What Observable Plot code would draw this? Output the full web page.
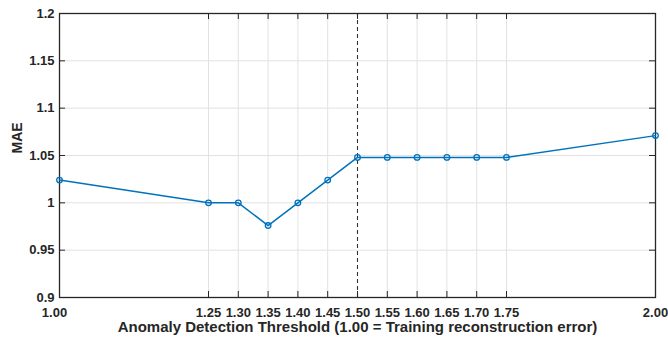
<!DOCTYPE html>
<html>
<head>
<meta charset="utf-8">
<script src="https://cdn.jsdelivr.net/npm/d3@7"></script>
<script src="https://cdn.jsdelivr.net/npm/@observablehq/plot@0.6"></script>
<style>
  html, body { margin: 0; padding: 0; background: #fff; }
  svg { display: block; }
</style>
</head>
<body>
<div id="chart"></div>
<script>
const thresholds = [1.00, 1.25, 1.30, 1.35, 1.40, 1.45, 1.50, 1.55, 1.60, 1.65, 1.70, 1.75, 2.00];
const mae = [1.024, 1.000, 1.000, 0.976, 1.000, 1.024, 1.048, 1.048, 1.048, 1.048, 1.048, 1.048, 1.071];
const xTicks = [1.00, 1.25, 1.30, 1.35, 1.40, 1.45, 1.50, 1.55, 1.60, 1.65, 1.70, 1.75, 2.00];
const xTickLabels = ["1.00", "1.25", "1.30", "1.35", "1.40", "1.45", "1.50", "1.55", "1.60", "1.65", "1.70", "1.75", "2.00"];
const yTicks = [0.9, 0.95, 1, 1.05, 1.1, 1.15, 1.2];
const yTickLabels = ["0.9", "0.95", "1", "1.05", "1.1", "1.15", "1.2"];
const refThreshold = [1.50];
const xLabel = "Anomaly Detection Threshold (1.00 = Training reconstruction error)";
const yLabel = "MAE";

const data = thresholds.map((t, i) => ({t, v: mae[i]}));
const xFmt = d => xTickLabels[xTicks.indexOf(d)];
const yFmt = d => yTickLabels[yTicks.indexOf(d)];

const W = 668, H = 343;
const mL = 59, mR = 13, mT = 13, mB = 46;
const pw = W - mL - mR, ph = H - mT - mB;
const axisColor = "#262626";
const gridColor = "#e2e2e2";
const font = "'Liberation Sans', Arial, Helvetica, sans-serif";

const chart = Plot.plot({
  width: W,
  height: H,
  marginLeft: mL, marginRight: mR, marginTop: mT, marginBottom: mB,
  style: {fontFamily: font, background: "#fff"},
  x: {domain: [1, 2]},
  y: {domain: [0.9, 1.2]},
  marks: [
    Plot.ruleX(xTicks.filter(d => !refThreshold.includes(d)), {x: d => d, stroke: gridColor, strokeWidth: 1}),
    Plot.ruleY(yTicks, {y: d => d, stroke: gridColor, strokeWidth: 1}),
    Plot.ruleX(refThreshold, {x: d => d, stroke: "#333", strokeWidth: 1.1, strokeDasharray: "4,3"}),
    // inward tick marks
    Plot.tickX(xTicks, {x: d => d, insetTop: ph - 6, stroke: axisColor, strokeWidth: 1}),
    Plot.tickX(xTicks, {x: d => d, insetBottom: ph - 6, stroke: axisColor, strokeWidth: 1}),
    Plot.tickY(yTicks, {y: d => d, insetRight: pw - 6, stroke: axisColor, strokeWidth: 1}),
    Plot.tickY(yTicks, {y: d => d, insetLeft: pw - 6, stroke: axisColor, strokeWidth: 1}),
    Plot.frame({stroke: axisColor, strokeWidth: 1.3}),
    Plot.axisX(xTicks.slice(1), {tickFormat: xFmt, tickSize: 0, tickPadding: 10, label: null,
      fontSize: 13, fontWeight: "bold", fill: axisColor}),
    Plot.axisX(xTicks.slice(0, 1), {tickFormat: xFmt, tickSize: 0, tickPadding: 10, label: null, dx: -5,
      fontSize: 13, fontWeight: "bold", fill: axisColor}),
    Plot.axisY(yTicks, {tickFormat: yFmt, tickSize: 0, tickPadding: 5, label: null,
      fontSize: 13, fontWeight: "bold", fill: axisColor}),
    Plot.text([xLabel], {text: d => d, frameAnchor: "bottom", dy: 34, fontSize: 15, fontWeight: "bold", fill: axisColor}),
    Plot.text([yLabel], {text: d => d, frameAnchor: "left", dx: -42, dy: -2, rotate: -90, fontSize: 14, fontWeight: "bold", fill: axisColor}),
    Plot.line(data, {x: "t", y: "v", stroke: "#0072BD", strokeWidth: 1.5}),
    Plot.dot(data, {x: "t", y: "v", r: 2.8, stroke: "#0072BD", strokeWidth: 1.3, fill: "none"})
  ]
});
document.getElementById("chart").appendChild(chart);
</script>
</body>
</html>
